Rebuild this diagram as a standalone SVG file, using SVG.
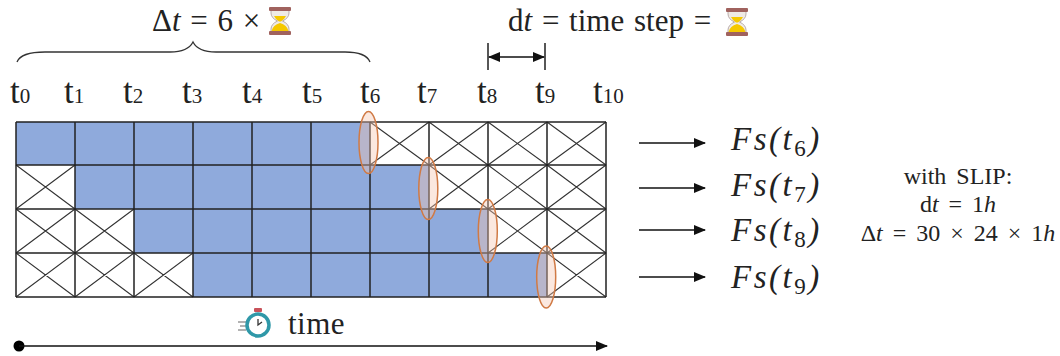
<svg xmlns="http://www.w3.org/2000/svg" width="1060" height="356" viewBox="0 0 1060 356">
<style>
text{font-family:"Liberation Serif","DejaVu Serif",serif;fill:#222}
.t{font-size:35px}
.s{font-size:21px}
.m{font-size:31px;word-spacing:2px}
.f{font-size:33px;font-style:italic;letter-spacing:2.5px}
.fs{font-size:23px;font-style:normal}
.r{font-size:24px;text-anchor:middle;word-spacing:4px}
.i{font-style:italic}
.g{stroke:#222;stroke-width:1.5;fill:none}
.x{stroke:#333;stroke-width:1.1;fill:none}
.e{fill:#f6c6b0;fill-opacity:.4;stroke:#d07a45;stroke-width:1.5}
.l{stroke:#111;stroke-width:1.4;fill:none}
</style>
<defs>
<marker id="a" viewBox="0 0 12 10" refX="11" refY="5" markerWidth="12" markerHeight="10" markerUnits="userSpaceOnUse" orient="auto-start-reverse"><path d="M0 0L12 5L0 10z" fill="#111"/></marker>
<symbol id="hg" viewBox="0 0 24 30" overflow="visible">
<path d="M3 3H21V7Q21 12 14.500 15Q21 18 21 23V27H3V23Q3 18 9.500 15Q3 12 3 7z" fill="#efeae4" stroke="#a99" stroke-width=".8"/>
<path d="M6 10H18Q16 14 13 15.500H11Q8 14 6 10zM12 17Q19 19 20.500 25H3.500Q5 19 12 17z" fill="#f5c800"/>
<rect x="1" y="1" width="22" height="4" rx="1" fill="#a0625e"/>
<rect x="1" y="25" width="22" height="4" rx="1" fill="#a0625e"/>
</symbol>
</defs>
<g id="grid">
<path fill="#8faadc" d="M16 122H370V165H429V209H488V253H547V297H193V253H134V209H75V165H16z"/>
<path class="x" d="M370 122L429 165M429 122L370 165M429 122L488 165M488 122L429 165M488 122L547 165M547 122L488 165M547 122L606 165M606 122L547 165M429 165L488 209M488 165L429 209M488 165L547 209M547 165L488 209M547 165L606 209M606 165L547 209M488 209L547 253M547 209L488 253M547 209L606 253M606 209L547 253M547 253L606 297M606 253L547 297M16 165L75 209M75 165L16 209M16 209L75 253M75 209L16 253M75 209L134 253M134 209L75 253M16 253L75 297M75 253L16 297M75 253L134 297M134 253L75 297M134 253L193 297M193 253L134 297"/>
<path class="g" d="M16 122H606M16 165H606M16 209H606M16 253H606M16 297H606M16 122V297M75 122V297M134 122V297M193 122V297M252 122V297M311 122V297M370 122V297M429 122V297M488 122V297M547 122V297M606 122V297"/>
</g>
<g id="highlights">
<ellipse class="e" cx="368.500" cy="142.500" rx="9.500" ry="31"/>
<ellipse class="e" cx="428.300" cy="188.500" rx="9.500" ry="31"/>
<ellipse class="e" cx="487.800" cy="231" rx="9.500" ry="31.500"/>
<ellipse class="e" cx="546.200" cy="277" rx="9.500" ry="31"/>
</g>
<g id="ticks">
<text class="t" x="10" y="103">t<tspan class="s">0</tspan></text>
<text class="t" x="64" y="103">t<tspan class="s">1</tspan></text>
<text class="t" x="123" y="103">t<tspan class="s">2</tspan></text>
<text class="t" x="182" y="103">t<tspan class="s">3</tspan></text>
<text class="t" x="242" y="103">t<tspan class="s">4</tspan></text>
<text class="t" x="302" y="103">t<tspan class="s">5</tspan></text>
<text class="t" x="360" y="103">t<tspan class="s">6</tspan></text>
<text class="t" x="417" y="103">t<tspan class="s">7</tspan></text>
<text class="t" x="477" y="103">t<tspan class="s">8</tspan></text>
<text class="t" x="535" y="103">t<tspan class="s">9</tspan></text>
<text class="t" x="593" y="103">t<tspan class="s">10</tspan></text>
</g>
<g id="delta-label">
<path fill="none" stroke="#333" stroke-width="1.300" d="M17 62Q21 52 45 52H170Q188 52 193 42Q198 52 216 52H345Q366 52 370 62"/>
<text class="m" x="152" y="31">Δ<tspan class="i">t</tspan> = 6 ×</text>
<use href="#hg" x="268" y="6" width="24" height="30"/>
</g>
<g id="step-label">
<text class="m" x="508" y="31">d<tspan class="i">t</tspan> = time step =</text>
<use href="#hg" x="725" y="7" width="24" height="30"/>
</g>
<g id="connectors">
<path class="l" d="M488 43V70M545 43V70"/>
<path class="l" d="M489 57H544" marker-start="url(#a)" marker-end="url(#a)"/>
<path class="l" d="M639 143H705" marker-end="url(#a)"/>
<path class="l" d="M639 188H705" marker-end="url(#a)"/>
<path class="l" d="M639 230H705" marker-end="url(#a)"/>
<path class="l" d="M639 277H705" marker-end="url(#a)"/>
<circle cx="19" cy="346" r="5.500" fill="#000"/>
<path class="l" d="M19 346H607" marker-end="url(#a)"/>
</g>
<g id="fs">
<text class="f" x="731" y="150">Fs(t<tspan class="fs" dy="6">6</tspan><tspan dy="-6">)</tspan></text>
<text class="f" x="731" y="196">Fs(t<tspan class="fs" dy="6">7</tspan><tspan dy="-6">)</tspan></text>
<text class="f" x="731" y="241">Fs(t<tspan class="fs" dy="6">8</tspan><tspan dy="-6">)</tspan></text>
<text class="f" x="731" y="288">Fs(t<tspan class="fs" dy="6">9</tspan><tspan dy="-6">)</tspan></text>
</g>
<g id="slip-note">
<text class="r" x="958" y="184">with SLIP:</text>
<text class="r" x="958" y="212">d<tspan class="i">t</tspan> = 1<tspan class="i">h</tspan></text>
<text class="r" x="958" y="241">Δ<tspan class="i">t</tspan> = 30 × 24 × 1<tspan class="i">h</tspan></text>
</g>
<g id="time-label">
<g id="stopwatch">
<path d="M238 322H246M240 326H246M238 330H246" stroke="#999" stroke-width="1.300"/>
<rect x="254" y="308" width="8" height="4" rx="1" fill="#c8525a"/>
<circle cx="258" cy="325" r="11" fill="#fff" stroke="#2f98a8" stroke-width="3.500"/>
<path d="M258 319V325L262 322" stroke="#333" stroke-width="1.300" fill="none"/>
</g>
<text class="m" x="288" y="334" letter-spacing=".5">time</text>
</g>
</svg>
